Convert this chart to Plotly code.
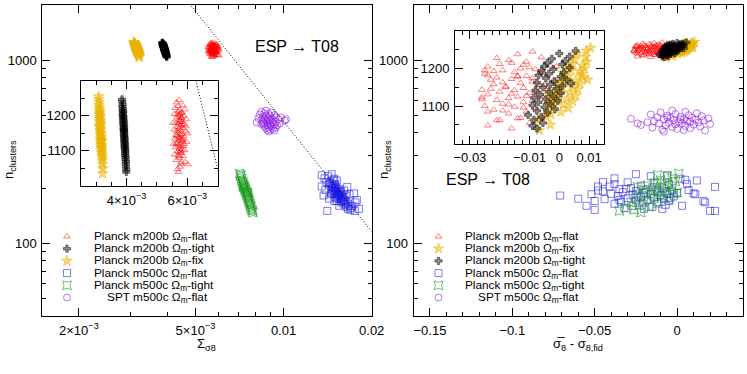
import numpy as np
import plotly.graph_objects as go

W, H = 747, 374
FONT = "Liberation Sans, Arial, Helvetica, sans-serif"

# each realisation: cluster count n, Sigma_sigma8 (x1e-3), sigma8_mean - sigma8_fid (x1e-3)

# Planck m200b, Omega_m flat
flat_n = [1245, 1238, 1230, 1222, 1218, 1212, 1208, 1205, 1200, 1198, 1195, 1190, 1186, 1183,
          1180, 1176, 1172, 1168, 1165, 1161, 1158, 1155, 1152, 1148, 1145, 1142, 1138, 1135,
          1131, 1128, 1125, 1121, 1118, 1114, 1110, 1106, 1102, 1098, 1094, 1090, 1085, 1080,
          1074, 1068, 1062, 1055, 1048, 1040, 1180, 1150, 1120, 1210, 1170, 1135, 1100,
          1215, 1203, 1193, 1188, 1178, 1174, 1163, 1157, 1146, 1140, 1133, 1127, 1116, 1112,
          1104, 1096, 1088, 1182, 1195, 1123, 1205, 1228, 1143, 1119, 1067, 1085, 1062]
flat_sig_e3 = [5.73, 5.65, 5.85, 5.60, 5.92, 5.70, 5.80, 5.58, 5.88, 5.75, 5.66, 5.96, 5.72, 5.83,
               5.62, 5.90, 5.77, 5.68, 5.86, 5.57, 5.79, 5.94, 5.70, 5.81, 5.63, 5.88, 5.75, 5.59,
               5.84, 5.72, 5.97, 5.66, 5.78, 5.86, 5.61, 5.74, 5.91, 5.69, 5.80, 5.58, 5.87, 5.73,
               5.64, 5.93, 6.02, 5.76, 5.68, 5.71, 5.53, 6.01, 5.55, 5.82, 5.95, 5.85, 5.78,
               5.74, 5.69, 5.81, 5.77, 5.71, 5.84, 5.74, 5.66, 5.77, 5.70, 5.79, 5.83, 5.71, 5.76,
               5.82, 5.75, 5.71, 5.76, 5.80, 5.64, 5.76, 5.70, 5.67, 5.89, 5.80, 5.74, 5.79]
flat_ds8_e3 = [-9, -14, -6, -17, -11, -20, -3, -24, -13, -8, -19, -15, -25, -5,
               -11, -21, -16, -2, -9, -13, -22, -7, -18, -12, -4, -15, -20, -10,
               -24, -6, -14, -17, -26, -9, -12, -19, -3, -15, -8, -22, -11, -17,
               -6, -13, -20, -10, -24, -16, -14, -18, -1, -12, -23, 0, -25,
               -16, -10, -22, -6, -14, -9, -19, -5, -23, -8, -16, -11, -21, -4,
               -17, -12, -19, -24, -25, -26, -1, -21, -26, -2, -14, -24, -21]

# Planck m200b, Omega_m tight
tight_n = [1247, 1240, 1232, 1226, 1220, 1215, 1211, 1206, 1202, 1198, 1194, 1190, 1186, 1182,
           1178, 1174, 1170, 1166, 1162, 1158, 1154, 1150, 1146, 1142, 1138, 1134, 1130, 1126,
           1122, 1118, 1114, 1110, 1106, 1102, 1097, 1092, 1087, 1082, 1076, 1070, 1063, 1055,
           1047, 1040, 1160]
tight_sig_e3 = [3.85, 3.86, 3.87, 3.86, 3.88, 3.87, 3.89, 3.88, 3.87, 3.90, 3.88, 3.90, 3.89, 3.91,
                3.89, 3.91, 3.90, 3.92, 3.90, 3.92, 3.91, 3.93, 3.91, 3.93, 3.92, 3.94, 3.92, 3.94,
                3.93, 3.95, 3.93, 3.95, 3.94, 3.96, 3.95, 3.96, 3.95, 3.97, 3.96, 3.98, 3.97, 3.98,
                3.99, 3.99, 3.91]
tight_ds8_e3 = [5.5, 0.0, 3.5, -2.5, 2.0, -4.0, 1.0, -5.0, 3.5, -2.0, -6.0, 1.5, -3.5, -7.0,
                0.5, -4.5, 2.5, -1.5, -7.5, -3.0, 1.0, -5.5, -1.0, -8.0, -3.5, 0.5, -6.5, -2.0,
                -8.5, -4.5, -0.5, -7.0, -3.0, -9.0, -5.0, -1.5, -7.5, -4.0, -10.5, -6.0, -8.5, -5.5,
                -9.0, -7.5, 4.0]

# Planck m200b, Omega_m fixed
fix_n = [1255, 1247, 1238, 1230, 1224, 1218, 1213, 1208, 1204, 1200, 1196, 1192, 1188, 1184,
         1180, 1176, 1172, 1168, 1164, 1160, 1156, 1152, 1148, 1144, 1140, 1136, 1132, 1128,
         1124, 1120, 1116, 1112, 1108, 1104, 1099, 1094, 1089, 1084, 1078, 1071, 1062, 1050,
         1035, 1170, 1130]
fix_sig_e3 = [3.08, 3.09, 3.10, 3.09, 3.11, 3.10, 3.12, 3.11, 3.10, 3.13, 3.12, 3.11, 3.14, 3.12,
              3.13, 3.15, 3.13, 3.12, 3.15, 3.14, 3.13, 3.16, 3.14, 3.15, 3.17, 3.15, 3.14, 3.17,
              3.16, 3.15, 3.18, 3.16, 3.18, 3.17, 3.19, 3.18, 3.20, 3.19, 3.21, 3.20, 3.21, 3.22,
              3.21, 3.11, 3.18]
fix_ds8_e3 = [10.5, 9.0, 6.0, 8.8, 5.0, 9.2, 4.5, 7.8, 2.8, 8.5, 4.0, 6.8, 1.5, 7.5,
              3.2, 8.0, 0.8, 5.5, 2.0, 7.0, -0.5, 4.8, 1.0, 6.2, -1.5, 3.5, 0.0, 5.5,
              -2.2, 2.8, -0.8, 4.5, -3.0, 1.5, -2.0, 3.0, -3.8, 0.5, -2.8, -4.5, -7.3, -3.0,
              -6.7, 9.5, -3.5]

# Planck m500c, Omega_m flat
m500flat_n = [215, 212, 210, 208, 206, 204, 202, 200, 199, 197, 196, 194, 193, 191, 190, 189,
              187, 186, 185, 184, 183, 181, 180, 179, 178, 176, 175, 174, 172, 171, 170, 168,
              167, 165, 164, 162, 160, 158, 156, 154, 192, 188, 177, 198, 182,
              235, 232, 226, 222, 204, 182, 175, 152, 216, 150, 150, 154, 187, 203, 167, 220,
              160, 195, 172, 238, 210, 185, 170, 160, 225, 185, 194, 170]
m500flat_sig_e3 = [14.4, 14.6, 14.3, 14.9, 14.7, 14.5, 15.1, 14.8, 15.0, 14.6, 15.3, 15.0, 14.8,
                   15.4, 15.1, 15.6, 15.2, 14.9, 15.5, 15.3, 15.8, 15.4, 15.7, 15.2, 16.0, 15.6,
                   15.9, 15.4, 16.2, 15.8, 16.1, 15.7, 16.4, 16.0, 16.6, 16.2, 16.8, 16.4, 17.0,
                   16.6, 15.7, 14.6, 15.0, 15.5, 16.3,
                   13.5, 14.2, 13.8, 14.8, 13.5, 13.7, 14.3, 16.9, 14.0, 14.1, 17.5, 18.1, 17.4,
                   16.5, 17.6, 15.2, 15.5, 13.9, 17.8, 14.6, 15.0, 16.8, 14.9, 17.2, 14.9, 14.5,
                   16.1, 15.2]
m500flat_ds8_e3 = [-30, -12, -38, -5, -22, -41, -15, -28, -8, -35, -19, -3, -25, -12, -33, -20,
                   -6, -40, -16, -27, -10, -36, -2, -22, -14, -30, -8, -44, -18, -25, -5, -34,
                   -12, -21, -38, -7, -27, -15, -32, -20, -45, 0, -4, -31, -24,
                   -6, -16, -38, 5, -48, -71, -60, -50, -45, 20, 23, -9, 10, 23, 17, 12,
                   -55, 7, -35, -25, 6, 11, 16, 3, 2, -52, -48, -50]

# Planck m500c, Omega_m tight
m500tight_n = [240, 232, 226, 221, 217, 213, 210, 207, 204, 201, 198, 196, 193, 191, 188, 186,
               183, 181, 178, 176, 173, 170, 167, 164, 161, 158, 155, 152, 150, 147, 236, 203, 189]
m500tight_sig_e3 = [7.08, 7.12, 7.20, 7.18, 7.26, 7.24, 7.31, 7.28, 7.36, 7.33, 7.40, 7.38, 7.45,
                    7.42, 7.48, 7.52, 7.50, 7.56, 7.54, 7.60, 7.58, 7.64, 7.62, 7.68, 7.70, 7.74,
                    7.72, 7.80, 7.82, 7.86, 7.15, 7.30, 7.55]
m500tight_ds8_e3 = [1, -6, -3, -10, -1, -14, -6, -18, -9, -3, -13, -21, -7, -16, -11, -2,
                    -19, -9, -25, -14, -5, -20, -28, -12, -23, -17, -31, -26, -35, -22, -12, -24, 0]

# SPT m500c, Omega_m flat
spt_n = [530, 522, 518, 512, 508, 505, 500, 497, 494, 490, 488, 485, 482, 480, 478, 476, 474,
         472, 470, 468, 466, 464, 462, 460, 458, 456, 454, 452, 450, 448, 446, 444, 442, 440,
         437, 434, 431, 428, 425, 421, 417, 412, 407, 475, 486, 451, 415]
spt_sig_e3 = [8.7, 8.4, 9.1, 8.6, 8.9, 8.3, 9.3, 8.7, 9.0, 8.5, 9.4, 8.8, 8.2, 9.1, 8.6, 9.6, 8.9,
              8.4, 9.2, 8.7, 10.1, 9.0, 8.5, 9.4, 8.8, 8.1, 9.2, 8.6, 9.7, 9.0, 8.4, 9.3, 8.8, 9.5,
              8.6, 9.1, 8.9, 9.4, 8.7, 9.2, 9.0, 9.3, 8.9, 10.2, 9.8, 8.5, 8.8]
spt_ds8_e3 = [-3, 5, -10, 12, -1, -16, 7, -6, 15, 2, -12, 9, -4, 19, -28, 4, -8,
              11, -2, 16, 6, -14, 1, 8, -18, 13, -5, 3, -11, 20, -1, 10, -22, -7,
              5, 14, -3, -15, 8, 0, -9, 17, -8, 2, -6, -24, 4]

# dotted guide lines n = C / Sigma^2 (main panel and inset)
guide_c_main = 0.0463
guide_sig_main = [0.0047, 0.0205]
guide_c_inset = 0.0513
guide_sig_inset = [0.00628, 0.00702]

esp_label = "ESP \u2192 T08"

series = {
    "flat": dict(label="Planck m200b \u03a9<sub>m</sub>-flat", n=flat_n, sig=flat_sig_e3, ds8=flat_ds8_e3,
                 symbol="triangle-up-open", color="rgba(255,0,0,0.5)", size=6),
    "tight": dict(label="Planck m200b \u03a9<sub>m</sub>-tight", n=tight_n, sig=tight_sig_e3, ds8=tight_ds8_e3,
                  symbol="cross", color="rgba(0,0,0,0.45)", size=6),
    "fix": dict(label="Planck m200b \u03a9<sub>m</sub>-fix", n=fix_n, sig=fix_sig_e3, ds8=fix_ds8_e3,
                symbol="star", color="rgba(235,180,0,0.5)", size=8),
    "m500flat": dict(label="Planck m500c \u03a9<sub>m</sub>-flat", n=m500flat_n, sig=m500flat_sig_e3,
                     ds8=m500flat_ds8_e3, symbol="square-open", color="rgba(20,20,230,0.55)", size=7),
    "m500tight": dict(label="Planck m500c \u03a9<sub>m</sub>-tight", n=m500tight_n, sig=m500tight_sig_e3,
                      ds8=m500tight_ds8_e3, symbol="star-square-open", color="rgba(20,150,20,0.6)", size=8),
    "spt": dict(label="\u00a0\u00a0\u00a0\u00a0SPT m500c \u03a9<sub>m</sub>-flat", n=spt_n, sig=spt_sig_e3,
                ds8=spt_ds8_e3, symbol="circle-open", color="rgba(140,30,230,0.6)", size=7),
}

left_order = ["flat", "tight", "fix", "m500flat", "m500tight", "spt"]
right_order = ["flat", "fix", "tight", "m500flat", "m500tight", "spt"]
draw_order = ["flat", "fix", "tight", "m500flat", "m500tight", "spt"]
inset_keys = ["flat", "fix", "tight"]


def pxx(px):
    return px / W


def pxy(py):
    return 1 - py / H


def marker(s):
    return dict(symbol=s["symbol"], size=s["size"], color=s["color"],
                line=dict(color=s["color"], width=1))


fig = go.Figure()

# main + inset points
for key in draw_order:
    s = series[key]
    sig = np.array(s["sig"]) * 1e-3
    ds8 = np.array(s["ds8"]) * 1e-3
    fig.add_trace(go.Scatter(x=sig, y=s["n"], mode="markers", marker=marker(s),
                             xaxis="x", yaxis="y", showlegend=False))
    fig.add_trace(go.Scatter(x=ds8, y=s["n"], mode="markers", marker=marker(s),
                             xaxis="x2", yaxis="y2", showlegend=False))
    if key in inset_keys:
        fig.add_trace(go.Scatter(x=sig, y=s["n"], mode="markers", marker=marker(s),
                                 xaxis="x3", yaxis="y3", showlegend=False))
        fig.add_trace(go.Scatter(x=ds8, y=s["n"], mode="markers", marker=marker(s),
                                 xaxis="x4", yaxis="y4", showlegend=False))

# dotted guides
dots = dict(color="black", width=1, dash="1px,2px")
gm = np.array(guide_sig_main)
fig.add_trace(go.Scatter(x=gm, y=guide_c_main / gm**2, mode="lines", xaxis="x", yaxis="y",
                         line=dots, showlegend=False))
gi = np.array(guide_sig_inset)
fig.add_trace(go.Scatter(x=gi, y=guide_c_inset / gi**2, mode="lines", xaxis="x3", yaxis="y3",
                         line=dots, showlegend=False))

# hand-made legends (plotly legend rows are too tall)
row0, row_gap = 236.5, 12.2
for order, mx, tx in [(left_order, 67, 92), (right_order, 438.5, 463)]:
    for i, key in enumerate(order):
        s = series[key]
        yy = row0 + i * row_gap
        fig.add_trace(go.Scatter(x=[mx], y=[yy], mode="markers", marker=marker(s),
                                 xaxis="x5", yaxis="y5", showlegend=False))
        fig.add_annotation(x=pxx(tx), y=pxy(yy), xref="paper", yref="paper", text=s["label"],
                           showarrow=False, xanchor="left", yanchor="middle",
                           font=dict(family=FONT, size=11.8, color="black"))

base_font = dict(family=FONT, size=13, color="black")


def ax(domain, anchor, **kw):
    minor = dict(ticks="inside", ticklen=4, tickwidth=1, tickcolor="black", showgrid=False)
    minor.update(kw.pop("minor", {}))
    d = dict(domain=domain, anchor=anchor, showline=True, linecolor="black", linewidth=1,
             mirror="allticks", ticks="inside", ticklen=8, tickwidth=1, tickcolor="black",
             showgrid=False, zeroline=False, tickfont=base_font, tickmode="array", minor=minor,
             ticklabelstandoff=2, automargin=False)
    d.update(kw)
    return d


sci = lambda m: f"{m}\u00d710<sup>\u22123</sup>"
ylog_minor = [50, 60, 70, 80, 90, 200, 300, 400, 500, 600, 700, 800, 900]

fig.update_layout(
    width=W, height=H, margin=dict(l=0, r=0, t=0, b=0, autoexpand=False),
    paper_bgcolor="white", plot_bgcolor="rgba(0,0,0,0)", showlegend=False,
    font=base_font,
    xaxis=ax([pxx(42.3), pxx(371.7)], "y", type="log", range=[np.log10(0.0015), np.log10(0.02)],
             tickvals=[0.002, 0.005, 0.01, 0.02], ticktext=[sci(2), sci(5), "0.01", "0.02"],
             minor=dict(tickmode="array", tickvals=[0.003, 0.004, 0.006, 0.007, 0.008, 0.009])),
    yaxis=ax([pxy(316), pxy(5)], "x", type="log", range=[np.log10(40), np.log10(2000)],
             tickvals=[100, 1000], ticktext=["100", "1000"],
             minor=dict(tickmode="array", tickvals=ylog_minor)),
    xaxis2=ax([pxx(413.5), pxx(743)], "y2", range=[-0.16, 0.04],
              tickvals=[-0.15, -0.1, -0.05, 0], ticktext=["\u22120.15", "\u22120.1", "\u22120.05", "0"],
              minor=dict(tickmode="array", tickvals=[round(-0.16 + 0.01 * i, 2) for i in range(21)])),
    yaxis2=ax([pxy(316), pxy(5)], "x2", type="log", range=[np.log10(40), np.log10(2000)],
              tickvals=[100, 1000], ticktext=["100", "1000"],
              minor=dict(tickmode="array", tickvals=ylog_minor)),
    xaxis3=ax([pxx(81), pxx(217.7)], "y3", range=[0.0025, 0.007], tickvals=[0.004, 0.006],
              ticktext=[sci(4), sci(6)],
              minor=dict(tickmode="array", tickvals=[0.0025 + 0.0005 * i for i in range(10)])),
    yaxis3=ax([pxy(186), pxy(80.7)], "x3", range=[1000, 1300], tickvals=[1100, 1200],
              ticktext=["1100", "1200"], minor=dict(tickmode="array", tickvals=[1050, 1150, 1250])),
    xaxis4=ax([pxx(455), pxx(604)], "y4", range=[-0.035, 0.015], tickvals=[-0.03, -0.01, 0, 0.01],
              ticktext=["\u22120.03", "\u22120.01", "0", "0.01"],
              minor=dict(tickmode="array", tickvals=[-0.035 + 0.0025 * i for i in range(21)])),
    yaxis4=ax([pxy(143.5), pxy(31)], "x4", range=[1000, 1300], tickvals=[1100, 1200],
              ticktext=["1100", "1200"], minor=dict(tickmode="array", tickvals=[1050, 1150, 1250])),
    xaxis5=dict(domain=[0, 1], anchor="y5", range=[0, W], visible=False, fixedrange=True,
                automargin=False),
    yaxis5=dict(domain=[0, 1], anchor="x5", range=[H, 0], visible=False, fixedrange=True,
                automargin=False),
)

title_font = dict(family=FONT, size=13, color="black")
for txt, x, y, ang in [
    ("\u03a3<sub>\u03c38</sub>", 206, 344, 0),
    ("n<sub>clusters</sub>", 10, 160, -90),
    ("\u03c3\u0305<sub>8</sub> - \u03c3<sub>8,fid</sub>", 578, 344, 0),
    ("n<sub>clusters</sub>", 385, 160, -90),
]:
    fig.add_annotation(x=pxx(x), y=pxy(y), xref="paper", yref="paper", text=txt, textangle=ang,
                       showarrow=False, xanchor="center", yanchor="middle", font=title_font)

for x, y in [(297, 46), (488, 179)]:
    fig.add_annotation(x=pxx(x), y=pxy(y), xref="paper", yref="paper", text=esp_label,
                       showarrow=False, xanchor="center", yanchor="middle",
                       font=dict(family=FONT, size=16, color="black"))

# the page's default body margin would shift the figure by 8px
fig.write_html("out.html", config={"displayModeBar": False},
               post_script="document.body.style.margin='0';")
